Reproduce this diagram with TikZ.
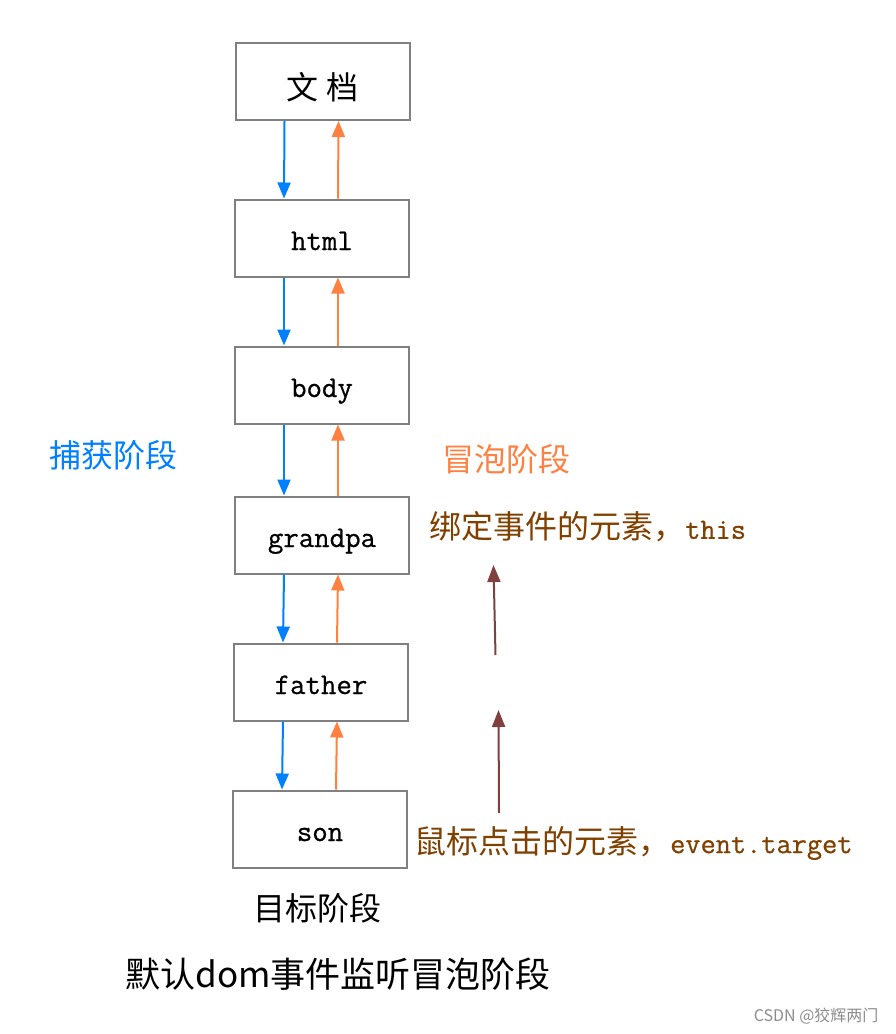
\documentclass[tikz,border=0pt]{standalone}
\usepackage{fontspec}
\newfontfamily\cjk{Noto Sans CJK SC}
\newfontfamily\boxmono[FakeBold=0.7]{Latin Modern Mono}
\usetikzlibrary{arrows.meta}
\definecolor{capblue}{RGB}{0,128,255}
\definecolor{bubbleorange}{RGB}{255,128,64}
\definecolor{targetred}{RGB}{128,64,64}
\definecolor{notebrown}{RGB}{128,64,0}
\tikzstyle{elembox}=[draw=black!50,line width=2pt,minimum width=174pt,minimum height=77pt,inner sep=0pt,text height=24pt,text depth=0pt,font=\fontsize{30}{32}\selectfont\boxmono]
\tikzstyle{rootbox}=[text height=36pt]
\tikzstyle{capture}=[-{Triangle[length=16pt,width=13pt]},capblue,line width=2pt]
\tikzstyle{bubble}=[-{Triangle[length=16pt,width=13pt]},bubbleorange,line width=2pt]
\tikzstyle{target}=[-{Triangle[length=17pt,width=13pt]},targetred,line width=2pt]
\tikzstyle{note}=[notebrown,inner sep=0pt,anchor=west]
\newcommand{\cjkfont}[1]{\fontsize{#1}{#1}\selectfont\cjk}

\begin{document}
\begin{tikzpicture}[x=1pt,y=-1pt]
  \useasboundingbox (0,0) rectangle (896,1034);

  \foreach \pos/\name/\opt/\txt in {{(322.5,81.5)/doc/rootbox/{\cjkfont{32}文\ 档}}, {(322,238)/html//html}, {(322,385)/body//body}, {(322,535)/grandpa//grandpa}, {(321,682)/father//father}, {(320,829)/son//son}}
    \node[elembox,\opt] (\name) at \pos {\txt};

  \foreach \upper/\lower in {doc/html, html/body, body/grandpa, grandpa/father, father/son}
  {
    \draw[capture] ([xshift=-38pt]\upper.south) -- ([xshift=-38pt]\lower.north);
    \draw[bubble] ([xshift=16pt]\lower.north) -- ([xshift=16pt]\upper.south);
  }

%phases
  \node[capblue, font=\cjkfont{32}] (capname) at (113,455) {捕获阶段};
  \node[bubbleorange, font=\cjkfont{32}] (bubblename) at (506,459) {冒泡阶段};
  \node[font=\cjkfont{32}] (targetname) at (317,908) {目标阶段};
  \node[font=\cjkfont{35}] (title) at (338,974) {默认dom事件监听冒泡阶段};

%this and event.target
  \node[note] (thisnote) at (429,527) {{\cjkfont{32}绑定事件的元素，}{\fontsize{29.5}{30}\selectfont\boxmono this}};
  \node[note] (targetnote) at (414,843) {{\cjkfont{32}鼠标点击的元素，}{\fontsize{29.5}{30}\selectfont\boxmono event.target}};

  \coordinate (thistail) at (495.5,655);
  \coordinate (thishead) at (493.5,565);
  \coordinate (targettail) at (499,813);
  \coordinate (targethead) at (498.5,710);
  \draw[target] (thistail) -- (thishead);
  \draw[target] (targettail) -- (targethead);

  \node[black!45, anchor=east, font=\fontsize{16}{18}\selectfont\cjk] (mark) at (882,1016) {CSDN @狡辉两门};

\end{tikzpicture}
\end{document}
